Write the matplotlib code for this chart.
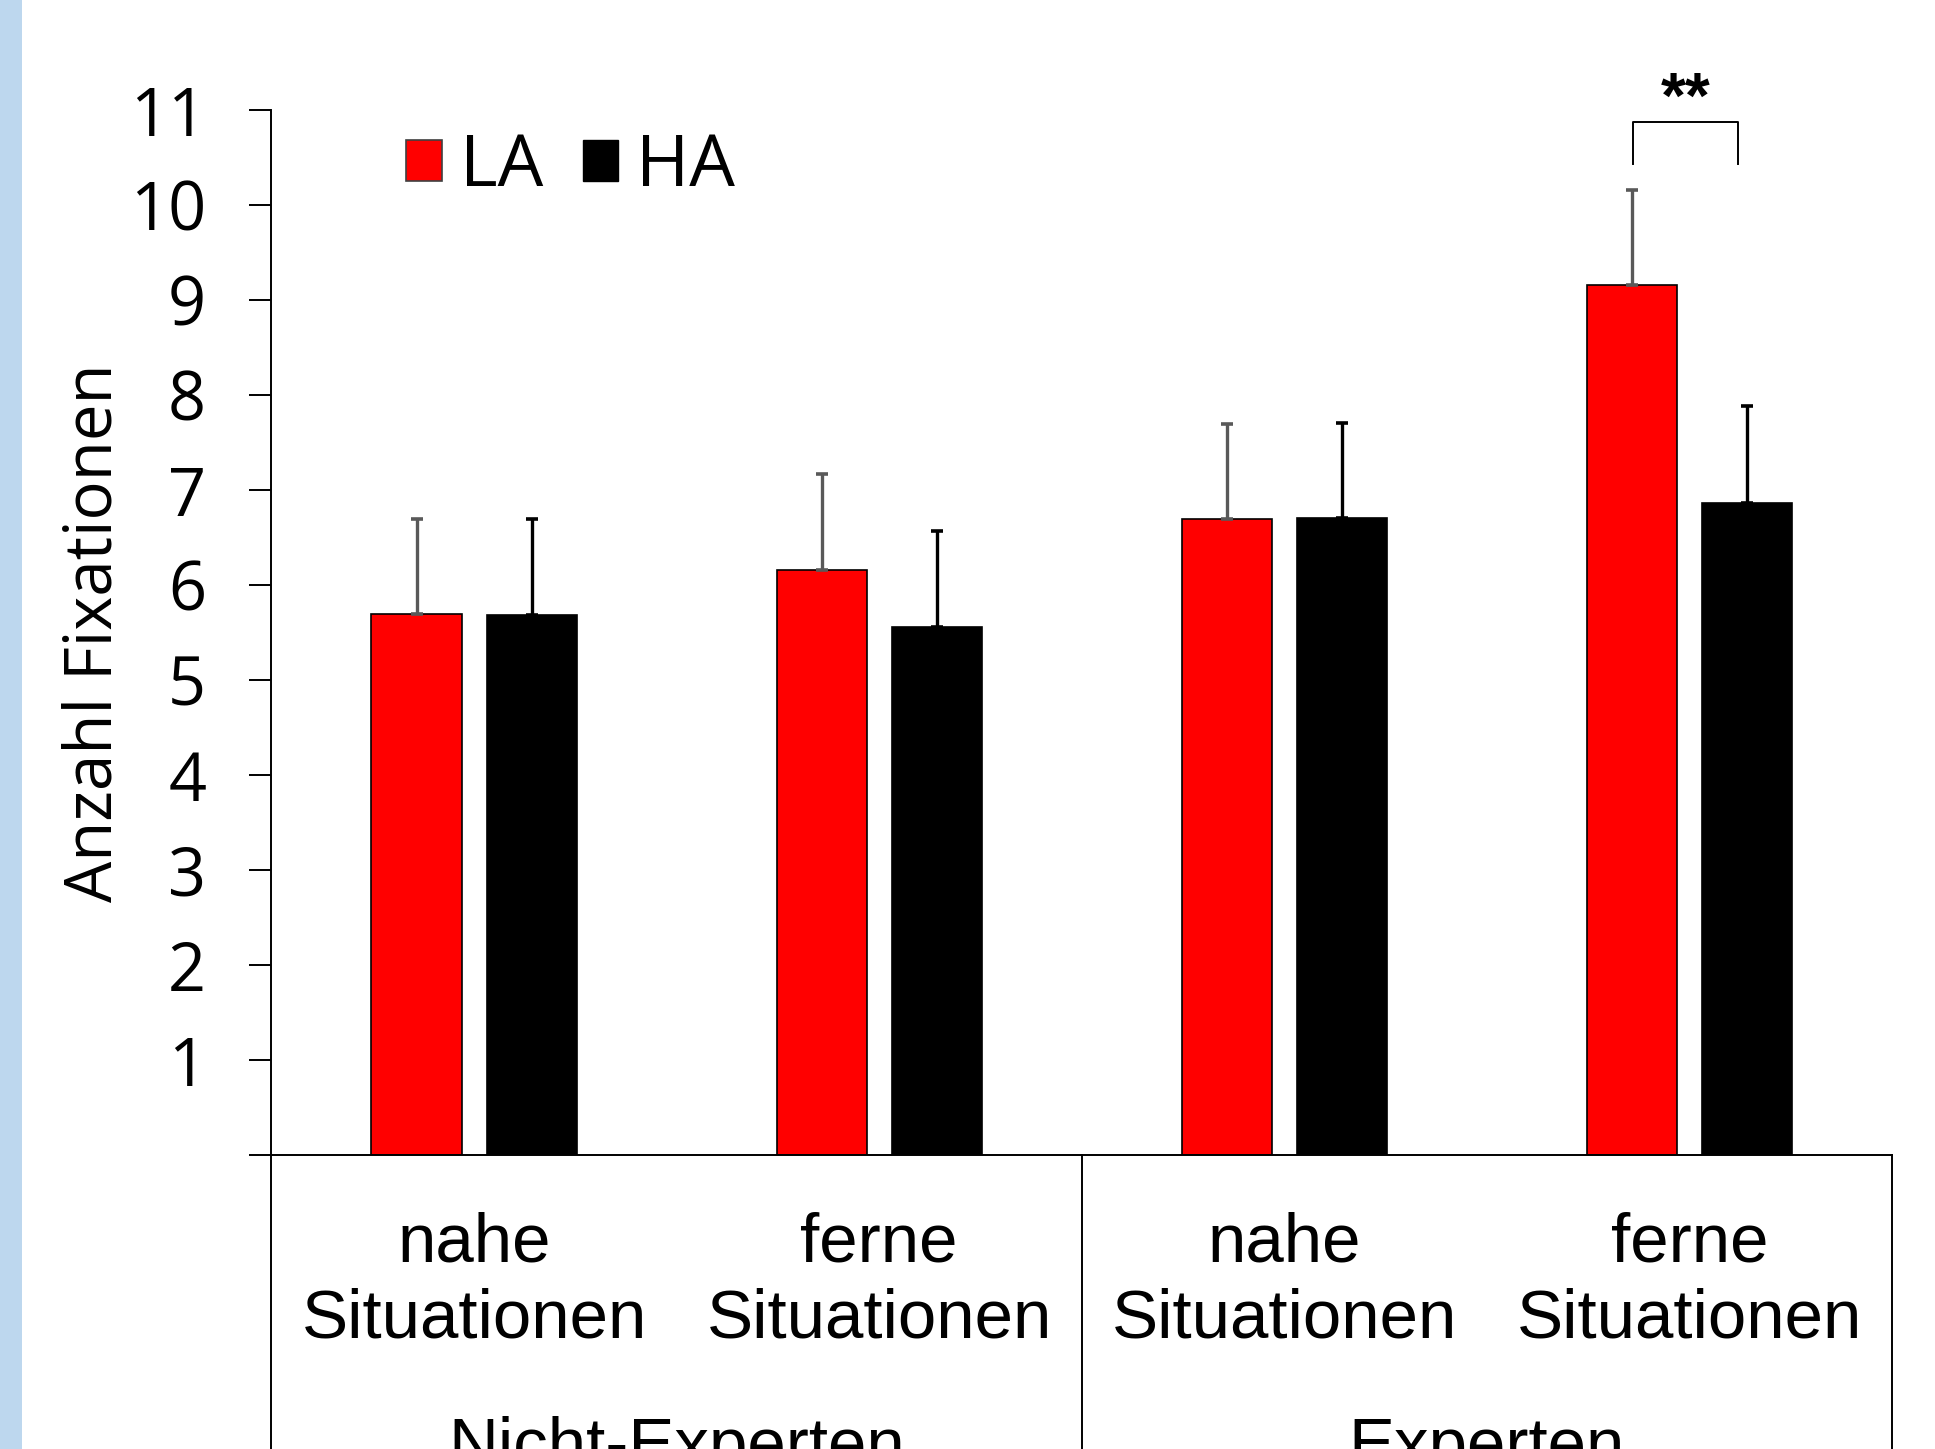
import matplotlib
matplotlib.use("Agg")
import matplotlib.pyplot as plt
import numpy as np
from matplotlib.patches import Patch, Rectangle

# ---------- data ----------
categories = ["nahe\nSituationen", "ferne\nSituationen",
              "nahe\nSituationen", "ferne\nSituationen"]
groups = ["Nicht-Experten", "Experten"]
la_means = [5.69, 6.16, 6.69, 9.16]
ha_means = [5.68, 5.56, 6.70, 6.86]
la_err = [1.00, 1.01, 1.00, 1.00]
ha_err = [1.01, 1.01, 1.01, 1.02]
y_ticks = list(range(0, 12))
y_ticklabels = [""] + [str(v) for v in range(1, 12)]

TICK_FONT = "Open Sans"
CAT_FONT = "Liberation Sans"
RED = "#FF0000"

fig = plt.figure(figsize=(19.35, 14.49), dpi=100)
# light blue strip at the left edge
fig.patches.append(Rectangle((0, 0), 22 / 1935, 1, transform=fig.transFigure,
                             facecolor="#BDD7EE", edgecolor="none", zorder=0))

ax = fig.add_axes([0.1403, 0.2029, 0.8375, 0.7212])
x = np.arange(len(categories))
w = 0.2225
off = 0.142

ax.bar(x - off, la_means, w, color=RED, edgecolor="black", linewidth=1.2,
       label="LA", zorder=2)
ax.bar(x + off, ha_means, w, color="black", edgecolor="black", linewidth=1.2,
       label="HA", zorder=2)
ax.errorbar(x - off, la_means, yerr=[np.zeros(len(x)), la_err], fmt="none",
            ecolor="#595959", elinewidth=2.4, capsize=4.5, capthick=2.6, zorder=3)
ax.errorbar(x + off, ha_means, yerr=[np.zeros(len(x)), ha_err], fmt="none",
            ecolor="black", elinewidth=2.4, capsize=4.5, capthick=2.6, zorder=3)

ax.set_xlim(-0.5, 3.5)
ax.set_ylim(0, 11)
ax.set_yticks(y_ticks)
ax.set_yticklabels(y_ticklabels, fontfamily=TICK_FONT, fontsize=48)
ax.tick_params(axis="y", length=16, width=1.4, pad=31)
ax.set_xticks([])
for s in ["top", "right"]:
    ax.spines[s].set_visible(False)
for s in ["left", "bottom"]:
    ax.spines[s].set_linewidth(1.4)

ax.set_ylabel("Anzahl Fixationen", fontfamily=TICK_FONT, fontsize=47)
ax.yaxis.set_label_coords(-0.089, 0.5)

# category box below the axis
xt = ax.get_xaxis_transform()
for xd in [-0.5, 1.5, 3.5]:
    ax.plot([xd, xd], [0, -0.4], transform=xt, color="black", lw=1.4,
            clip_on=False)
for xi, lab in zip(x, categories):
    ax.text(xi, -0.1215, lab, transform=xt, ha="center", va="center",
            fontfamily=CAT_FONT, fontsize=49.8, linespacing=1.24)
for gi, g in enumerate(groups):
    ax.text(0.5 + 2 * gi, -0.298, g, transform=xt, ha="center", va="baseline",
            fontfamily=CAT_FONT, fontsize=49.8)

# significance bracket
bx0, bx1 = 2.86, 3.12
yb, yt = 10.43, 10.87
ax.plot([bx0, bx0, bx1, bx1], [yb, yt, yt, yb], color="black", lw=1.4,
        clip_on=False)
ax.text((bx0 + bx1) / 2, 11.10, "**", ha="center", va="center",
        fontfamily=CAT_FONT, fontsize=46, fontweight="bold", clip_on=False)

handles = [Patch(facecolor=RED, edgecolor="#404040", linewidth=1.2, label="LA"),
           Patch(facecolor="black", edgecolor="black", label="HA")]
ax.legend(handles=handles, loc="center left", bbox_to_anchor=(0.0833, 0.945),
          ncol=2, frameon=False, prop={"family": TICK_FONT, "size": 52},
          handlelength=0.49, handleheight=0.49, handletextpad=0.25,
          columnspacing=0.55, borderpad=0, borderaxespad=0)

fig.savefig("out.png", dpi=100)
